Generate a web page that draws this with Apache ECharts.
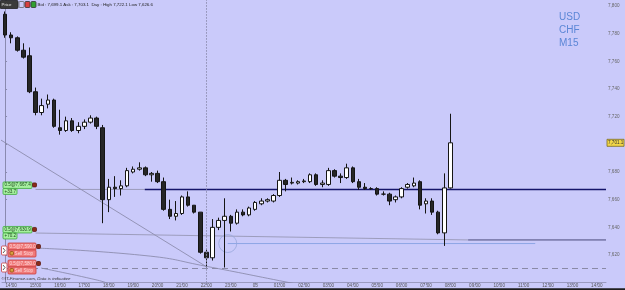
<!DOCTYPE html>
<html><head><meta charset="utf-8">
<script src="https://cdn.jsdelivr.net/npm/echarts@6/dist/echarts.min.js"></script>
<style>html,body{margin:0;padding:0;background:#cacafa;overflow:hidden}#c{width:625px;height:290px}</style>
</head><body><div id="c"></div>
<script>
// ---- time slots (M15), axis runs 13:45 -> 14:15 next day
const times = ["13:45","14:00","14:15","14:30","14:45","15:00","15:15","15:30","15:45","16:00","16:15","16:30","16:45","17:00","17:15","17:30","17:45","18:00","18:15","18:30","18:45","19:00","19:15","19:30","19:45","20:00","20:15","20:30","20:45","21:00","21:15","21:30","21:45","22:00","22:15","22:30","22:45","23:00","23:15","23:30","23:45","00:00","00:15","00:30","00:45","01:00","01:15","01:30","01:45","02:00","02:15","02:30","02:45","03:00","03:15","03:30","03:45","04:00","04:15","04:30","04:45","05:00","05:15","05:30","05:45","06:00","06:15","06:30","06:45","07:00","07:15","07:30","07:45","08:00","08:15","08:30","08:45","09:00","09:15","09:30","09:45","10:00","10:15","10:30","10:45","11:00","11:15","11:30","11:45","12:00","12:15","12:30","12:45","13:00","13:15","13:30","13:45","14:00","14:15"];
const dateLabel = "03";

// ---- OHLC (74 candles from 13:45)
const opens  = [7794,7779,7777,7768,7764,7738,7723,7729,7732,7712,7710,7717,7710,7713,7716,7719,7712,7660,7669,7668,7670,7680,7682,7683,7678,7679,7673,7653,7648,7650,7662,7656,7651,7622,7618,7640,7645,7648,7643,7651,7649,7653,7657,7659,7659,7663,7674,7672,7672,7673,7673,7678,7671,7671,7681,7677,7676,7683,7673,7669,7668,7668,7664,7664,7660,7662,7669,7670,7673,7657,7659,7651,7636,7668.5];
const highs  = [7796,7781,7778,7773,7770,7741,7733,7736,7733,7725,7720,7719,7716,7718,7721,7720,7714,7675,7677,7674,7683,7684,7687,7684,7680,7681,7676,7660,7659,7663,7666,7656,7651,7624,7646,7647,7661,7649,7653,7653,7655,7659,7661,7661,7664,7680,7675,7676,7674,7675,7679,7679,7674,7683,7682,7679,7686,7684,7675,7672,7669,7669,7666,7665,7663,7669,7672,7676,7674,7661,7661,7652,7679,7722.1];
const lows   = [7777,7773,7767,7762,7737,7721,7721,7726,7712,7707,7709,7709,7708,7711,7715,7711,7643,7651,7662,7663,7669,7679,7681,7677,7673,7672,7652,7646,7645,7649,7655,7650,7621,7611,7616,7638,7611,7637,7642,7648,7648,7652,7656,7658,7658,7662,7666,7671,7671,7672,7672,7670,7669,7670,7676,7672,7675,7672,7667,7667,7667,7663,7663,7656,7658,7661,7668,7669,7653,7650,7649,7635,7626.6,7668];
const closes = [7779,7777,7768,7763,7738,7723,7728,7732,7713,7710,7717,7710,7713,7716,7719,7713,7660,7669,7668,7670,7681,7682,7683,7678,7679,7673,7653,7648,7650,7662,7656,7651,7622,7618,7640,7645,7648,7643,7651,7649,7654,7658,7659,7660,7663,7674,7671,7672.5,7673,7673.5,7678,7671,7672,7681,7677,7676,7683,7673,7669,7668,7668,7664,7664,7659,7662,7668,7671,7672,7656,7659,7651,7636,7668.5,7701.1];

// ---- price levels / drawn objects (slot index, price)
const lastPrice = 7701.1;
const bid = "7,699.1", ask = "7,703.1", dayHigh = "7,722.1", dayLow = "7,626.6";
const order1 = 7667.4, order2 = 7630.9, stopLevel = 7610.8, markerLevel = 7628.3;
const order1Connector = [[5.0, 7667.4], [22.9, 7667.4]];
const order1Line      = [[22.9, 7667.4], [98.5, 7667.4]];
const order2Connector = [[5.0, 7635.9], [75.9, 7630.9]];
const order2Line      = [[75.9, 7630.9], [98.5, 7630.9]];
const markerLine      = [[36.5, 7628.3], [86.9, 7628.3]];
const markerCircle    = [[36.5, 7628.3]];
const trendLine       = [[-0.83, 7703.5], [33.1, 7611.3]];
const stopCurve1      = [[5.24, 7625.0], [23.8, 7619.2], [32.8, 7612.0], [46.2, 7600.4], [48.0, 7598.8]];
const stopCurve2      = [[5.9, 7610.6], [15.1, 7601.9], [17.2, 7599.0]];
const separatorTime = "22:00";

const yMin = 7600, yMax = 7804.3, yStep = 20;
const FONT = "'Liberation Sans', Arial, sans-serif";

const candles = opens.map((o, i) => [o, closes[i], lows[i], highs[i]]);
const fmt = v => { const s = Math.round(v).toString(); return s.slice(0, 1) + "," + s.slice(1); };
const isHour = (i, v) => v.endsWith(":00");

const chart = echarts.init(document.getElementById('c'), null, {renderer: 'canvas'});
function lineSeries(data, color, width, smooth, type) {
  return {type: 'line', xAxisIndex: 1, yAxisIndex: 0, data: data, symbol: 'none', smooth: !!smooth,
    lineStyle: {color: color, width: width, type: type || 'solid'}, silent: true, clip: true, z: 2};
}
chart.setOption({
  animation: false,
  backgroundColor: '#cacafa',
  grid: {left: 2, right: 19, top: 0, bottom: 7.3},
  xAxis: [{
    type: 'category', data: times, boundaryGap: true,
    axisLine: {show: true, lineStyle: {color: '#9a9ac0', width: 1}},
    axisTick: {show: true, interval: isHour, alignWithLabel: true, length: 2, lineStyle: {color: '#8a8ab0'}},
    axisLabel: {interval: isHour, fontSize: 4.6, color: '#555', margin: 1, fontFamily: FONT,
      formatter: v => v === "00:00" ? dateLabel : v},
    splitLine: {show: false}
  }, {
    type: 'value', min: -0.5, max: 98.5, show: false
  }],
  yAxis: [{
    type: 'value', position: 'right', min: yMin, max: yMax, interval: yStep, scale: true,
    axisLine: {show: true, lineStyle: {color: '#8a8ab0', width: 1}},
    axisTick: {show: true, length: 2, lineStyle: {color: '#8a8ab0'}},
    axisLabel: {fontSize: 4.6, color: '#666', margin: 2, fontFamily: FONT,
      formatter: v => (Math.abs(v % yStep) < 1e-6 && v > yMin && v <= 7800) ? fmt(v) : ''},
    splitLine: {show: false}
  }],
  series: [
    lineSeries(trendLine, '#8585a5', 0.8),
    lineSeries(stopCurve1, '#8585a5', 0.8, true),
    lineSeries(stopCurve2, '#8585a5', 0.8, true),
    lineSeries(order1Connector, '#8e8eaa', 0.8),
    lineSeries(order1Line, '#15156a', 1.4),
    lineSeries(order2Connector, '#9090ac', 0.8),
    lineSeries(order2Line, '#4a4a7a', 1),
    lineSeries(markerLine, '#8ea6e6', 1),
    {type: 'scatter', xAxisIndex: 1, yAxisIndex: 0, data: markerCircle, symbol: 'circle', symbolSize: 18,
      itemStyle: {color: 'rgba(0,0,0,0)', borderColor: '#98a8dc', borderWidth: 1}, silent: true, z: 2},
    {
      type: 'candlestick', xAxisIndex: 0, yAxisIndex: 0, data: candles, barWidth: 4, z: 3,
      itemStyle: {color: '#ffffff', color0: '#262626', borderColor: '#151515', borderColor0: '#151515', borderWidth: 1},
      markLine: {
        silent: true, symbol: 'none', label: {show: false},
        data: [
          {xAxis: separatorTime, lineStyle: {type: [1.5, 1.5], color: '#8c8cae', width: 1}},
          {yAxis: stopLevel, lineStyle: {type: [6, 4], color: '#8a8aa6', width: 1}}
        ]
      }
    }
  ]
});

// ---- annotations
const py = v => chart.convertToPixel({yAxisIndex: 0}, v);
const g = [];
function box(x, y, w, h, fill, stroke, text, tcol, fs) {
  g.push({type: 'rect', shape: {x: x, y: y, width: w, height: h, r: 1}, style: {fill: fill, stroke: stroke, lineWidth: 0.8}, z: 10});
  if (text) g.push({type: 'text', x: x + 1.5, y: y + h / 2, style: {text: text, fill: tcol, fontSize: fs || 4.6, fontFamily: FONT, verticalAlign: 'middle'}, z: 11});
}
// green orders
const y1 = py(order1), y2 = py(order2);
box(3, y1 - 7.5, 29, 6.5, '#a6f0a0', '#3caa3c', '0.5@7,667.4', '#1f4a1f');
box(3, y1 - 1, 14, 6, '#a6f0a0', '#3caa3c', '+33.7', '#1f4a1f');
box(32.5, y1 - 6.5, 4, 4, '#8a2a1a', '#5a1a10');
box(3, y2 - 13.5, 29, 6.5, '#a6f0a0', '#3caa3c', '0.5@7,630.9', '#1f4a1f');
box(3, y2 - 7, 14, 6, '#a6f0a0', '#3caa3c', '+70.2', '#1f4a1f');
box(32.5, y2 - 12.5, 4, 4, '#8a2a1a', '#5a1a10');
// red stop orders
[[243, '0.5@7,590.0'], [260, '0.5@7,580.0']].forEach(([yy, t]) => {
  box(8, yy, 28, 7, '#f07a7a', '#c83c3c', t, '#ffd8d8');
  box(8, yy + 7, 28, 7, '#f07a7a', '#c83c3c', '    Sell Stop', '#ffd8d8');
  box(10, yy + 8.5, 3.5, 3.5, '#d8a040', '#905010');
  box(36.5, yy + 1.5, 4, 4, '#8a2a1a', '#5a1a10');
  box(1.5, yy + 3, 5.5, 9, '#ffffff', '#c83c3c', '', '');
  g.push({type: 'polyline', shape: {points: [[3, yy + 5], [5, yy + 7.5], [3, yy + 10]]}, style: {stroke: '#333', lineWidth: 0.8, fill: 'none'}, z: 12});
});
// header
box(0, 0.5, 18, 8, '#3a3a3a', '#222', 'Price', '#e8e8e8', 4.4);
box(19, 1.5, 5, 6, '#cacafa', '#666', '', '');
box(25, 1.5, 5, 6, '#d84040', '#333', '', '');
box(31, 1.5, 5, 6, '#30a030', '#333', '', '');
g.push({type: 'text', x: 37.5, y: 4.8, style: {text: 'Bid : ' + bid + ' Ask : ' + ask + '  Day : High ' + dayHigh + ' Low ' + dayLow, fill: '#222', fontSize: 4.4, fontFamily: FONT, verticalAlign: 'middle'}, z: 11});
// symbol text
['USD', 'CHF', 'M15'].forEach((t, i) => g.push({type: 'text', x: 559, y: 17 + i * 13, style: {text: t, fill: '#5b86d6', fontSize: 10, fontFamily: FONT, verticalAlign: 'middle'}, z: 11}));
// last price on axis
const yp = py(lastPrice);
g.push({type: 'rect', shape: {x: 607, y: yp - 3.5, width: 17, height: 7}, style: {fill: '#f2d648', stroke: '#7a6a20', lineWidth: 0.8}, z: 10});
g.push({type: 'text', x: 608, y: yp, style: {text: '7,701.1', fill: '#333', fontSize: 4.6, fontFamily: FONT, verticalAlign: 'middle'}, z: 11});
// copyright
g.push({type: 'text', x: 1.5, y: 279, style: {text: '\u00a9IT-Finance.com, Data is indicative', fill: '#333', fontSize: 4.4, fontFamily: FONT, verticalAlign: 'middle', fontStyle: 'italic'}, z: 11});
// bottom frame
g.push({type: 'rect', shape: {x: 0, y: 288.3, width: 625, height: 2}, style: {fill: '#1e1e1e'}, z: 12});
chart.setOption({graphic: g});
</script>
</body></html>
